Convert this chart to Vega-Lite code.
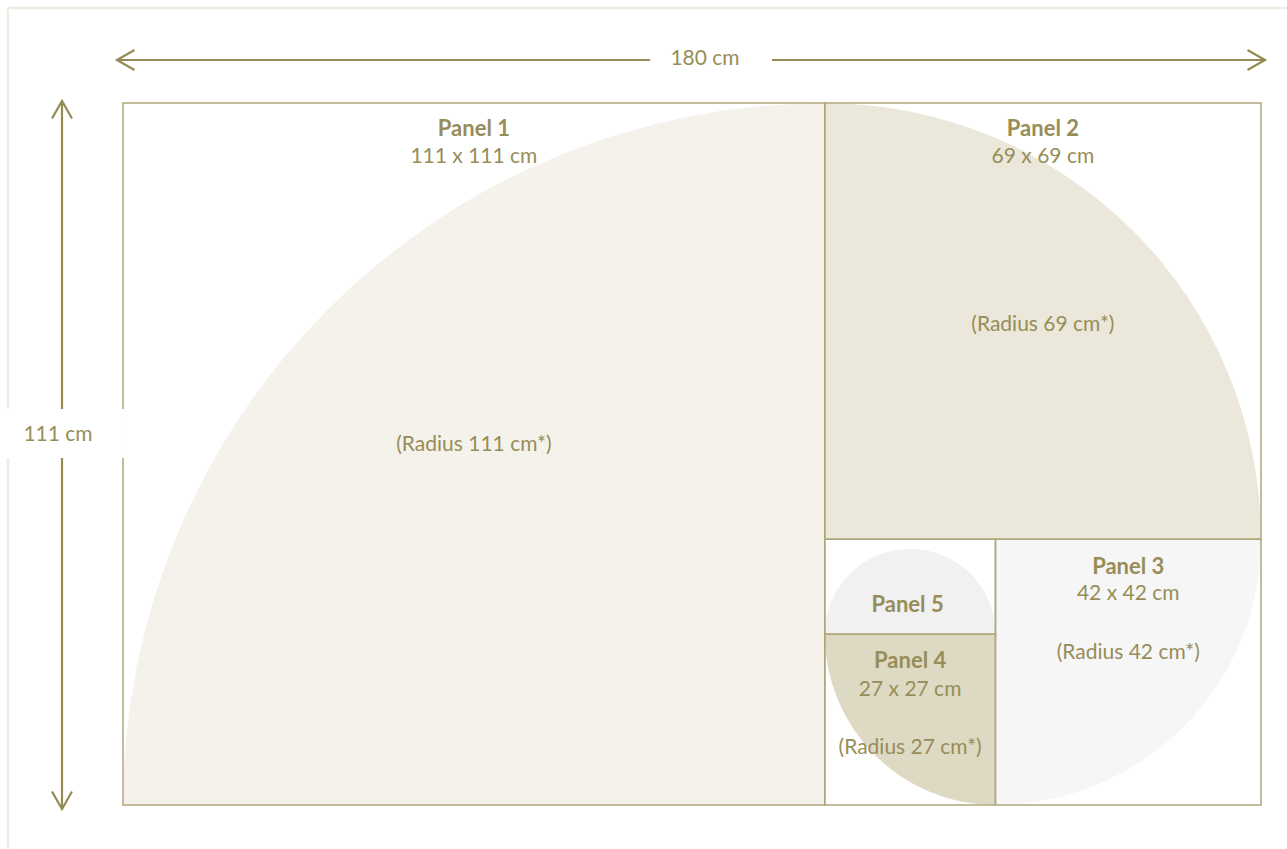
{
  "$schema": "https://vega.github.io/schema/vega-lite/v6.json",
  "width": 1287,
  "height": 849,
  "autosize": "none",
  "padding": 0,
  "background": "white",
  "config": {"view": {"stroke": null}},
  "datasets": {
    "frame": [
      {"x1": -18.19, "y1": -15.02, "x2": 184.2, "y2": -15.02},
      {"x1": -18.19, "y1": -15.02, "x2": -18.19, "y2": 118.0}
    ],
    "arcs": [
      {"panel": "Panel 1", "cx": 111, "cy": 111, "r": 111, "t1": 270, "t2": 360},
      {"panel": "Panel 2", "cx": 111, "cy": 69, "r": 69, "t1": 0, "t2": 90},
      {"panel": "Panel 3", "cx": 138, "cy": 69, "r": 42, "t1": 90, "t2": 180},
      {"panel": "Panel 4", "cx": 138, "cy": 84, "r": 27, "t1": 180, "t2": 270},
      {"panel": "Panel 5", "cx": 124.5, "cy": 84, "r": 13.5, "t1": 270, "t2": 450}
    ],
    "panels": [
      {"panel": "Panel 1", "x1": 0, "y1": 0, "x2": 111, "y2": 111},
      {"panel": "Panel 2", "x1": 111, "y1": 0, "x2": 180, "y2": 69},
      {"panel": "Panel 3", "x1": 138, "y1": 69, "x2": 180, "y2": 111},
      {"panel": "Panel 4", "x1": 111, "y1": 84, "x2": 138, "y2": 111},
      {"panel": "Panel 5", "x1": 111, "y1": 69, "x2": 138, "y2": 84}
    ],
    "arrows": [
      {"name": "width", "x1": -0.95, "y1": -6.8, "x2": 180.64, "y2": -6.8},
      {"name": "height", "x1": -9.65, "y1": -0.32, "x2": -9.65, "y2": 111.63}
    ],
    "heads": [
      {"dir": "left", "x": -0.95, "y": -6.8},
      {"dir": "right", "x": 180.64, "y": -6.8},
      {"dir": "up", "x": -9.65, "y": -0.32},
      {"dir": "down", "x": -9.65, "y": 111.63}
    ],
    "boxes": [
      {"x1": 83.36, "y1": -9.5, "x2": 102.65, "y2": -4.2},
      {"x1": -19.455, "y1": 48.38, "x2": 0.15, "y2": 56.13}
    ],
    "labels": [
      {"text": "Panel 1", "x": 55.5, "y": 4.05, "kind": "title"},
      {"text": "111 x 111 cm", "x": 55.5, "y": 8.5, "kind": "body"},
      {"text": "(Radius 111 cm*)", "x": 55.5, "y": 54.05, "kind": "body"},
      {"text": "Panel 2", "x": 145.5, "y": 4.05, "kind": "title"},
      {"text": "69 x 69 cm", "x": 145.5, "y": 8.5, "kind": "body"},
      {"text": "(Radius 69 cm*)", "x": 145.5, "y": 35.05, "kind": "body"},
      {"text": "Panel 3", "x": 159, "y": 73.3, "kind": "title"},
      {"text": "42 x 42 cm", "x": 159, "y": 77.6, "kind": "body"},
      {"text": "(Radius 42 cm*)", "x": 159, "y": 86.95, "kind": "body"},
      {"text": "Panel 5", "x": 124.1, "y": 79.3, "kind": "title"},
      {"text": "Panel 4", "x": 124.5, "y": 88.3, "kind": "title"},
      {"text": "27 x 27 cm", "x": 124.5, "y": 92.8, "kind": "body"},
      {"text": "(Radius 27 cm*)", "x": 124.5, "y": 101.95, "kind": "body"},
      {"text": "180 cm", "x": 92.06, "y": -7.0, "kind": "dim"},
      {"text": "111 cm", "x": -10.28, "y": 52.45, "kind": "dim"}
    ]
  },
  "layer": [
    {
      "data": {"name": "frame"},
      "mark": {"type": "rule", "stroke": "#efece2", "strokeWidth": 2.5},
      "encoding": {
        "x": {"field": "x1", "type": "quantitative", "scale": {"domain": [-19.455, 184.113], "nice": false, "zero": false}, "axis": null},
        "x2": {"field": "x2"},
        "y": {"field": "y1", "type": "quantitative", "scale": {"domain": [-16.286, 117.958], "nice": false, "zero": false, "reverse": true}, "axis": null},
        "y2": {"field": "y2"}
      }
    },
    {
      "data": {"name": "arcs"},
      "mark": {"type": "arc", "stroke": null},
      "encoding": {
        "x": {"field": "cx", "type": "quantitative", "axis": null},
        "y": {"field": "cy", "type": "quantitative", "axis": null},
        "theta": {"field": "t1", "type": "quantitative", "stack": null, "scale": {"type": "linear", "domain": [0, 360], "range": [0, 6.283185307], "zero": true}},
        "theta2": {"field": "t2"},
        "radius": {"field": "r", "type": "quantitative", "scale": {"type": "linear", "domain": [0, 180], "range": [0, 1138.0], "zero": true}},
        "color": {"field": "panel", "type": "nominal", "legend": null,
          "scale": {"domain": ["Panel 1", "Panel 2", "Panel 3", "Panel 4", "Panel 5"],
                    "range": ["#f4f2eb", "#ebe7da", "#f6f6f6", "#ded9c3", "#f1f1f1"]}}
      }
    },
    {
      "data": {"name": "panels"},
      "mark": {"type": "rect", "fill": null, "fillOpacity": 0, "stroke": "#b0a67b", "strokeWidth": 1.5},
      "encoding": {
        "x": {"field": "x1", "type": "quantitative", "axis": null},
        "x2": {"field": "x2"},
        "y": {"field": "y1", "type": "quantitative", "axis": null},
        "y2": {"field": "y2"}
      }
    },
    {
      "data": {"name": "arrows"},
      "mark": {"type": "rule", "stroke": "#958b54", "strokeWidth": 2.2},
      "encoding": {
        "x": {"field": "x1", "type": "quantitative", "axis": null},
        "x2": {"field": "x2"},
        "y": {"field": "y1", "type": "quantitative", "axis": null},
        "y2": {"field": "y2"}
      }
    },
    {
      "data": {"name": "heads"},
      "mark": {"type": "point", "shape": "M -1.75 -1 L 0 0 L -1.75 1", "filled": false, "size": 400, "stroke": "#958b54", "strokeWidth": 2.2, "opacity": 1},
      "encoding": {
        "x": {"field": "x", "type": "quantitative", "axis": null},
        "y": {"field": "y", "type": "quantitative", "axis": null},
        "angle": {"field": "dir", "type": "nominal", "legend": null,
          "scale": {"type": "ordinal", "domain": ["right", "down", "left", "up"], "range": [0, 90, 180, 270]}}
      }
    },
    {
      "data": {"name": "boxes"},
      "mark": {"type": "rect", "fill": "white", "stroke": null},
      "encoding": {
        "x": {"field": "x1", "type": "quantitative", "axis": null},
        "x2": {"field": "x2"},
        "y": {"field": "y1", "type": "quantitative", "axis": null},
        "y2": {"field": "y2"}
      }
    },
    {
      "data": {"name": "labels"},
      "transform": [{"filter": "datum.kind === 'title'"}],
      "mark": {"type": "text", "font": "Lato", "fontSize": 22, "fontWeight": "bold", "fill": "#978d58", "align": "center", "baseline": "middle"},
      "encoding": {
        "x": {"field": "x", "type": "quantitative", "axis": null},
        "y": {"field": "y", "type": "quantitative", "axis": null},
        "text": {"field": "text"}
      }
    },
    {
      "data": {"name": "labels"},
      "transform": [{"filter": "datum.kind === 'body'"}],
      "mark": {"type": "text", "font": "Lato", "fontSize": 21, "fill": "#978d58", "align": "center", "baseline": "middle"},
      "encoding": {
        "x": {"field": "x", "type": "quantitative", "axis": null},
        "y": {"field": "y", "type": "quantitative", "axis": null},
        "text": {"field": "text"}
      }
    },
    {
      "data": {"name": "labels"},
      "transform": [{"filter": "datum.kind === 'dim'"}],
      "mark": {"type": "text", "font": "Lato", "fontSize": 21, "fill": "#978d58", "align": "center", "baseline": "middle"},
      "encoding": {
        "x": {"field": "x", "type": "quantitative", "axis": null},
        "y": {"field": "y", "type": "quantitative", "axis": null},
        "text": {"field": "text"}
      }
    }
  ]
}
